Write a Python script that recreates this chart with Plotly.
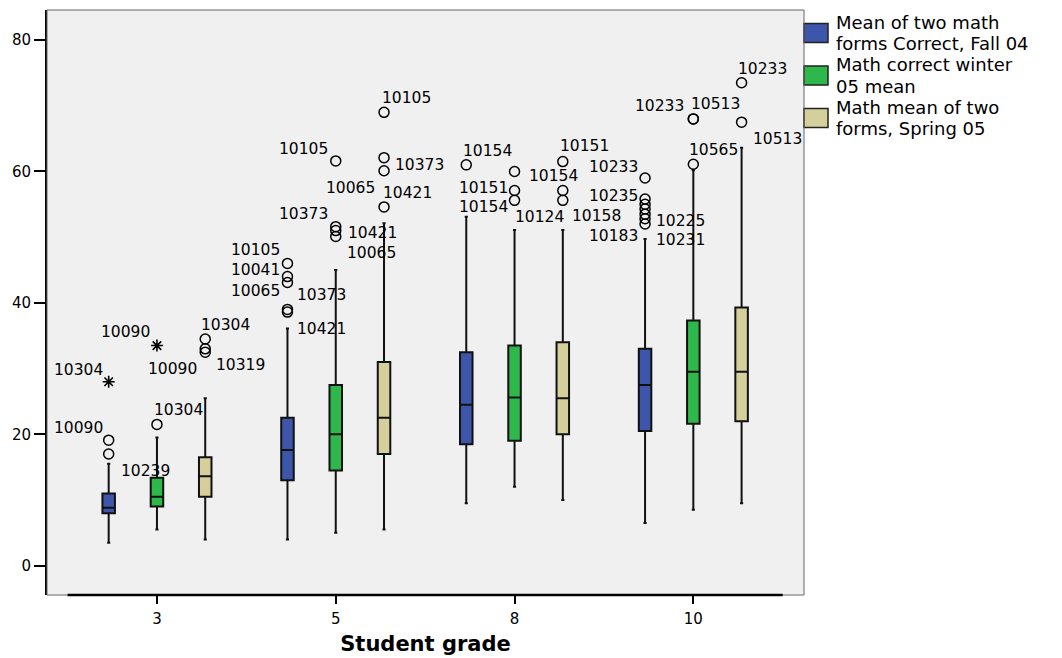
import plotly.graph_objects as go

# ---------------- data ----------------
grades = ["3", "5", "8", "10"]
series_names = [
    "Mean of two math forms Correct, Fall 04",
    "Math correct winter 05 mean",
    "Math mean of two forms, Spring 05",
]

fall_q1 = [8.0, 13.0, 18.5, 20.5]
fall_median = [8.8, 17.6, 24.5, 27.5]
fall_q3 = [11.0, 22.5, 32.5, 33.0]
fall_low = [3.5, 4.0, 9.5, 6.5]
fall_high = [15.5, 36.1, 53.1, 49.7]
fall_outliers = [[19.1, 17.0], [46.0, 44.0, 43.1, 39.0, 38.6], [61.0],
                 [59.0, 55.8, 55.0, 54.3, 53.5, 52.8, 52.0]]
fall_extremes = [[28.0], [], [], []]

winter_q1 = [9.0, 14.5, 19.0, 21.6]
winter_median = [10.5, 20.0, 25.6, 29.5]
winter_q3 = [13.4, 27.5, 33.5, 37.3]
winter_low = [5.5, 5.0, 12.0, 8.5]
winter_high = [19.5, 45.0, 51.1, 60.2]
winter_outliers = [[21.5], [61.6, 51.6, 51.0, 50.1], [60.0, 57.1, 55.6],
                   [68.0, 68.0, 61.1]]
winter_extremes = [[33.5], [], [], []]

spring_q1 = [10.5, 17.0, 20.0, 22.0]
spring_median = [13.6, 22.5, 25.5, 29.5]
spring_q3 = [16.5, 31.0, 34.0, 39.3]
spring_low = [4.0, 5.5, 10.0, 9.5]
spring_high = [25.5, 52.1, 51.1, 63.6]
spring_outliers = [[34.5, 33.0, 32.5], [69.0, 62.1, 60.1, 54.6],
                   [61.5, 57.1, 55.6], [73.5, 67.5]]
spring_extremes = [[], [], [], []]

# case labels: (series index, grade index, value, case id)
case_labels = [
    (0, 0, 28.0, "10304"), (0, 0, 19.1, "10090"), (0, 0, 17.0, "10239"),
    (1, 0, 33.5, "10090"), (1, 0, 21.5, "10304"),
    (2, 0, 34.5, "10304"), (2, 0, 32.5, "10319"), (2, 0, 33.0, "10090"),
    (0, 1, 46.0, "10105"), (0, 1, 44.0, "10041"), (0, 1, 43.1, "10065"),
    (0, 1, 39.0, "10373"), (0, 1, 38.6, "10421"),
    (1, 1, 61.6, "10105"), (1, 1, 51.6, "10373"), (1, 1, 51.0, "10421"),
    (1, 1, 50.1, "10065"),
    (2, 1, 69.0, "10105"), (2, 1, 62.1, "10373"), (2, 1, 60.1, "10065"),
    (2, 1, 54.6, "10421"),
    (0, 2, 61.0, "10154"),
    (1, 2, 57.1, "10151"), (1, 2, 55.6, "10154"), (1, 2, 60.0, "10154"),
    (1, 2, 55.6, "10124"),
    (2, 2, 61.5, "10151"), (2, 2, 55.6, "10158"),
    (0, 3, 59.0, "10233"), (0, 3, 55.8, "10235"), (0, 3, 52.0, "10183"),
    (0, 3, 52.8, "10225"), (0, 3, 52.0, "10231"),
    (1, 3, 68.0, "10233"), (1, 3, 68.0, "10513"), (1, 3, 61.1, "10565"),
    (2, 3, 73.5, "10233"), (2, 3, 67.5, "10513"),
]

legend_lines = [
    ["Mean of two math", "forms Correct, Fall 04"],
    ["Math correct winter", "05 mean"],
    ["Math mean of two", "forms, Spring 05"],
]

# ---------------- styles / layout ----------------
# label placement: side ('L' text left of point, 'R' right), dx edge offset px, dy px (up +)
label_style = [
    ("L", -6, 12), ("L", -6, 12), ("R", 12, -17),
    ("L", -7, 14), ("R", -3, 14),
    ("R", -4, 14), ("R", 11, -13), ("L", -8, -20),
    ("L", -7, 13), ("L", -7, 7), ("L", -7, -9),
    ("R", 10, 14), ("R", 10, -17),
    ("L", -8, 12), ("L", -8, 13), ("R", 12, -2),
    ("R", 11, -16),
    ("R", -2, 14), ("R", 11, -7), ("L", -9, -17),
    ("R", -1, 14),
    ("R", -3, 14),
    ("L", -7, 3), ("L", -7, -7), ("R", 14, -5),
    ("R", 0, -17),
    ("R", -3, 16), ("R", 9, -16),
    ("L", -7, 11), ("L", -7, 3), ("L", -7, -12),
    ("R", 11, -2), ("R", 11, -16),
    ("L", -9, 13), ("R", -2, 15), ("R", -4, 14),
    ("R", -4, 14), ("R", 11, -17),
]

W, H = 1062, 658
OFF = 8                      # page body margin of the html page
PL, PT, PR, PB = 47, 10, 804, 595   # plot area in window pixels
PW, PH = PR - PL, PB - PT
ML, MT = PL - OFF, PT - OFF
MR, MB = W - ML - PW, H - MT - PH

def paper_x(xp):
    return (xp - PL) / PW

def paper_y(yp):
    return (PB - yp) / PH

FONT = "DejaVu Sans"
colors = ["#3D56A9", "#2EB84B", "#D4CF9B"]
offsets = [-0.27, 0.0, 0.27]

stats = [
    (fall_q1, fall_median, fall_q3, fall_low, fall_high, fall_outliers, fall_extremes),
    (winter_q1, winter_median, winter_q3, winter_low, winter_high, winter_outliers, winter_extremes),
    (spring_q1, spring_median, spring_q3, spring_low, spring_high, spring_outliers, spring_extremes),
]

fig = go.Figure()
xpos_all = []
for s, (q1, med, q3, lo, hi, outs, exts) in enumerate(stats):
    xs = [i + offsets[s] for i in range(len(grades))]
    xpos_all.append(xs)
    fig.add_trace(go.Box(
        x=xs, q1=q1, median=med, q3=q3, lowerfence=lo, upperfence=hi,
        name=series_names[s], fillcolor=colors[s],
        line=dict(color="#111111", width=2), width=0.07, whiskerwidth=0.25,
        boxpoints=False, showlegend=False,
    ))
    ox, oy = [], []
    for i, vals in enumerate(outs):
        ox += [xs[i]] * len(vals)
        oy += vals
    fig.add_trace(go.Scatter(
        x=ox, y=oy, mode="markers", showlegend=False, hoverinfo="skip",
        marker=dict(symbol="circle-open", size=10, color="black",
                    line=dict(width=1.5, color="black")),
    ))
    ex, ey = [], []
    for i, vals in enumerate(exts):
        ex += [xs[i]] * len(vals)
        ey += vals
    if ey:
        fig.add_trace(go.Scatter(
            x=ex, y=ey, mode="markers", showlegend=False, hoverinfo="skip",
            marker=dict(symbol="asterisk-open", size=10, color="black",
                        line=dict(width=1.6, color="black")),
        ))

annotations = []
for (s, g, v, txt), (side, dx, dy) in zip(case_labels, label_style):
    if side == "L":
        xanchor, xshift = "right", dx + 2
    else:
        xanchor, xshift = "left", dx - 2
    annotations.append(dict(
        x=xpos_all[s][g], y=v, xref="x", yref="y", text=txt, showarrow=False,
        xanchor=xanchor, yanchor="middle", xshift=xshift, yshift=dy,
        font=dict(family=FONT, size=15.5, color="black"),
    ))

# custom legend (SPSS style)
shapes = []
LINE_GAP = 21.2
ITEM_GAP = 2 * LINE_GAP
for k, lines in enumerate(legend_lines):
    first = 22.5 + ITEM_GAP * k
    mid = first + LINE_GAP / 2
    shapes.append(dict(type="rect", xref="paper", yref="paper",
                       x0=paper_x(804), x1=paper_x(828),
                       y0=paper_y(mid + 9.5), y1=paper_y(mid - 9.5),
                       fillcolor=colors[k], line=dict(color="#222222", width=1.5)))
    for j, line in enumerate(lines):
        annotations.append(dict(
            x=paper_x(836), y=paper_y(first + LINE_GAP * j), xref="paper", yref="paper",
            text=line, showarrow=False, xanchor="left", yanchor="middle",
            borderpad=0, borderwidth=0,
            font=dict(family=FONT, size=18, color="black"),
        ))

# plot frame
shapes.append(dict(type="rect", xref="paper", yref="paper", x0=0, x1=1, y0=0, y1=1,
                   line=dict(color="#666666", width=1), layer="above"))
shapes.append(dict(type="line", xref="x", yref="paper", x0=-0.5, x1=3.5, y0=0, y1=0,
                   line=dict(color="black", width=2.5), layer="above"))

fig.update_layout(
    width=W, height=H,
    margin=dict(l=ML, r=MR, t=MT, b=MB, autoexpand=False),
    paper_bgcolor="white", plot_bgcolor="#F0F0F0",
    showlegend=False,
    font=dict(family=FONT, color="black"),
    annotations=annotations, shapes=shapes,
    xaxis=dict(
        range=[-0.615, 3.619], tickmode="array", tickvals=list(range(len(grades))),
        ticktext=grades, ticks="outside", ticklen=8, tickwidth=2, tickcolor="black",
        ticklabelstandoff=2,
        showgrid=False, zeroline=False, showline=False,
        tickfont=dict(family=FONT, size=15, color="black"),
        title=dict(text="Student grade", standoff=9,
                   font=dict(family=FONT, size=21, color="black", weight="bold")),
        automargin=False,
    ),
    yaxis=dict(
        range=[-4.46, 84.57], tickmode="array", tickvals=[0, 20, 40, 60, 80],
        ticks="outside", ticklen=11, tickwidth=2, tickcolor="black",
        showgrid=False, zeroline=False, showline=True, linecolor="black", linewidth=2,
        tickfont=dict(family=FONT, size=15, color="black"),
        automargin=False,
    ),
)

fig.write_html("out.html")
